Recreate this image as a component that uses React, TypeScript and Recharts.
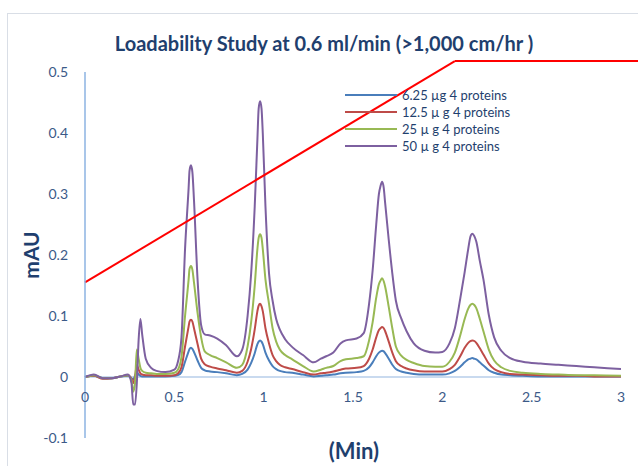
import { LineChart, Line, XAxis, YAxis, ReferenceLine } from "recharts";

// retention time (min)
const TIME = [
  0, 0.05, 0.1, 0.15, 0.2, 0.24, 0.26, 0.27, 0.28, 0.29, 0.3, 0.31, 0.32, 0.34,
  0.37, 0.4, 0.45, 0.5, 0.52, 0.54, 0.56, 0.58, 0.585, 0.593, 0.601, 0.61, 0.63,
  0.65, 0.67, 0.7, 0.74, 0.79, 0.85, 0.88, 0.91, 0.93, 0.95, 0.965, 0.972, 0.98,
  0.988, 0.995, 1.01, 1.03, 1.05, 1.07, 1.09, 1.12, 1.16, 1.22, 1.28, 1.32, 1.35,
  1.39, 1.43, 1.46, 1.52, 1.56, 1.59, 1.61, 1.63, 1.645, 1.654, 1.663, 1.672,
  1.68, 1.7, 1.72, 1.74, 1.77, 1.8, 1.84, 1.9, 1.96, 2.0, 2.04, 2.07, 2.1, 2.125,
  2.145, 2.157, 2.168, 2.179, 2.19, 2.21, 2.23, 2.26, 2.29, 2.33, 2.38, 2.45,
  2.55, 2.65, 2.75, 2.85, 3.0,
];

// absorbance (mAU) per load
const UG_6_25 = [
  0, 0.002, -0.002, -0.002, 0.001, 0.002, -0.002, -0.004, 0.002, 0.008, 0.004,
  0.002, 0.001, 0.001, 0.001, 0.001, 0.001, 0.002, 0.003, 0.008, 0.025, 0.042,
  0.046, 0.048, 0.046, 0.041, 0.027, 0.015, 0.011, 0.009, 0.008, 0.006, 0.003,
  0.005, 0.012, 0.023, 0.039, 0.054, 0.058, 0.06, 0.058, 0.054, 0.04, 0.027,
  0.018, 0.013, 0.01, 0.008, 0.007, 0.004, 0.001, 0.002, 0.003, 0.004, 0.006,
  0.007, 0.008, 0.01, 0.016, 0.024, 0.034, 0.04, 0.042, 0.043, 0.042, 0.039,
  0.03, 0.02, 0.013, 0.009, 0.007, 0.005, 0.004, 0.004, 0.004, 0.006, 0.01,
  0.017, 0.024, 0.029, 0.03, 0.031, 0.03, 0.029, 0.024, 0.019, 0.011, 0.007,
  0.004, 0.003, 0.002, 0.001, 0.001, 0.001, 0.001, 0.001,
];
const UG_12_5 = [
  0, 0.002, -0.003, -0.002, 0.001, 0.003, -0.003, -0.01, 0.0, 0.02, 0.012,
  0.006, 0.004, 0.003, 0.003, 0.002, 0.002, 0.003, 0.006, 0.016, 0.05, 0.083,
  0.091, 0.094, 0.091, 0.08, 0.054, 0.03, 0.021, 0.017, 0.014, 0.011, 0.007,
  0.01, 0.025, 0.046, 0.078, 0.108, 0.117, 0.12, 0.116, 0.108, 0.08, 0.055,
  0.036, 0.026, 0.02, 0.016, 0.013, 0.008, 0.004, 0.006, 0.007, 0.009, 0.012,
  0.014, 0.015, 0.018, 0.03, 0.045, 0.065, 0.077, 0.08, 0.082, 0.08, 0.075,
  0.058, 0.04, 0.026, 0.018, 0.014, 0.011, 0.009, 0.009, 0.009, 0.013, 0.02,
  0.034, 0.048, 0.056, 0.059, 0.06, 0.059, 0.056, 0.047, 0.037, 0.022, 0.013,
  0.008, 0.005, 0.004, 0.003, 0.002, 0.002, 0.001, 0.001,
];
const UG_25 = [
  0, 0.003, -0.002, -0.002, 0.001, 0.003, -0.005, -0.024, -0.01, 0.045, 0.03,
  0.015, 0.01, 0.007, 0.006, 0.005, 0.005, 0.007, 0.012, 0.033, 0.1, 0.16,
  0.177, 0.182, 0.176, 0.155, 0.105, 0.065, 0.042, 0.036, 0.031, 0.024, 0.015,
  0.02, 0.05, 0.09, 0.15, 0.21, 0.228, 0.234, 0.228, 0.21, 0.16, 0.12, 0.08,
  0.058, 0.045, 0.036, 0.029, 0.018, 0.009, 0.012, 0.015, 0.018, 0.026, 0.029,
  0.031, 0.034, 0.06, 0.09, 0.13, 0.152, 0.158, 0.162, 0.157, 0.148, 0.115,
  0.08, 0.05, 0.035, 0.028, 0.023, 0.018, 0.017, 0.017, 0.025, 0.04, 0.068,
  0.095, 0.112, 0.118, 0.12, 0.118, 0.113, 0.095, 0.075, 0.045, 0.027, 0.016,
  0.01, 0.007, 0.005, 0.004, 0.003, 0.003, 0.002,
];
const UG_50 = [
  0, 0.004, -0.002, -0.002, 0.001, 0.004, -0.01, -0.045, -0.045, -0.01, 0.06,
  0.095, 0.07, 0.03, 0.015, 0.01, 0.008, 0.012, 0.025, 0.065, 0.21, 0.31,
  0.338, 0.347, 0.336, 0.29, 0.16, 0.085, 0.07, 0.068, 0.063, 0.052, 0.034,
  0.045, 0.1, 0.17, 0.28, 0.39, 0.44, 0.452, 0.44, 0.4, 0.28, 0.17, 0.125,
  0.095, 0.078, 0.062, 0.049, 0.036, 0.024, 0.03, 0.034, 0.04, 0.055, 0.06,
  0.063, 0.072, 0.12, 0.175, 0.25, 0.3, 0.313, 0.32, 0.31, 0.285, 0.225, 0.17,
  0.125, 0.096, 0.075, 0.055, 0.043, 0.04, 0.041, 0.055, 0.08, 0.128, 0.172,
  0.21, 0.23, 0.235, 0.231, 0.222, 0.19, 0.16, 0.102, 0.065, 0.043, 0.031,
  0.025, 0.022, 0.02, 0.018, 0.016, 0.013,
];

const SERIES = [
  { key: "ug625", name: "6.25 µg 4 proteins", color: "#4A7EBB", values: UG_6_25 },
  { key: "ug125", name: "12.5 µ g 4 proteins", color: "#BE4B48", values: UG_12_5 },
  { key: "ug25", name: "25 µ g 4 proteins", color: "#98B954", values: UG_25 },
  { key: "ug50", name: "50 µ g 4 proteins", color: "#7D60A0", values: UG_50 },
];

const X_TICKS = [0, 0.5, 1, 1.5, 2, 2.5, 3];
const Y_TICKS = [-0.1, 0, 0.1, 0.2, 0.3, 0.4, 0.5];

// red flow-rate annotation (time, mAU)
const FLOW_LINE = [
  { x: 0, y: 0.155 },
  { x: 2.07, y: 0.518 },
  { x: 3.1, y: 0.518 },
];

const FONT = "Lato, 'Liberation Sans', sans-serif";
const TEXT_DARK = "#1F3F6E";
const TEXT_TICK = "#3C5A88";

const data = TIME.map((t, i) => {
  const row: Record<string, number> = { t };
  SERIES.forEach((s) => {
    row[s.key] = s.values[i];
  });
  return row;
});

export default function App() {
  return (
    <div
      style={{
        position: "absolute",
        left: 0,
        top: 0,
        width: 638,
        height: 466,
        overflow: "hidden",
        background: "#fff",
        fontFamily: FONT,
      }}
    >
      <div
        style={{
          position: "absolute",
          left: 7,
          top: 13,
          width: 700,
          height: 500,
          borderLeft: "1px solid #D9DEE6",
          borderTop: "1px solid #D9DEE6",
        }}
      />
      <LineChart
        width={638}
        height={466}
        data={data}
        margin={{ top: 72, right: 17, bottom: 0, left: 25 }}
        style={{ position: "absolute", left: 0, top: 0 }}
      >
        <XAxis
          type="number"
          dataKey="t"
          domain={[0, 3]}
          ticks={X_TICKS}
          interval={0}
          height={28}
          axisLine={false}
          tickLine={false}
          tickMargin={-52}
          tick={{ fill: TEXT_TICK, fontSize: 14, fontFamily: FONT }}
        />
        <YAxis
          type="number"
          domain={[-0.1, 0.5]}
          ticks={Y_TICKS}
          interval={0}
          width={60}
          axisLine={{ stroke: "#8DB3E2", strokeWidth: 1.5 }}
          tickLine={false}
          tickMargin={11}
          tick={{ fill: TEXT_TICK, fontSize: 14, fontFamily: FONT }}
        />
        <ReferenceLine y={0} stroke="#C9DAEF" strokeWidth={2} />
        {SERIES.map((s) => (
          <Line
            key={s.key}
            dataKey={s.key}
            name={s.name}
            type="monotone"
            stroke={s.color}
            strokeWidth={2}
            dot={false}
            isAnimationActive={false}
          />
        ))}
        <ReferenceLine
          segment={[FLOW_LINE[0], FLOW_LINE[1]]}
          stroke="#FF0000"
          strokeWidth={2}
          ifOverflow="visible"
        />
        <ReferenceLine
          segment={[FLOW_LINE[1], FLOW_LINE[2]]}
          stroke="#FF0000"
          strokeWidth={2}
          ifOverflow="visible"
        />
      </LineChart>

      <div
        style={{
          position: "absolute",
          left: 0,
          width: 648,
          top: 31,
          textAlign: "center",
          fontWeight: 700,
          fontSize: 20,
          color: TEXT_DARK,
          whiteSpace: "nowrap",
        }}
      >
        Loadability Study at 0.6 ml/min (&gt;1,000 cm/hr )
      </div>

      <div
        style={{
          position: "absolute",
          left: 30,
          top: 255,
          transform: "translate(-50%, -50%) rotate(-90deg)",
          fontWeight: 700,
          fontSize: 21,
          color: TEXT_DARK,
          whiteSpace: "nowrap",
        }}
      >
        mAU
      </div>

      <div
        style={{
          position: "absolute",
          left: 354,
          top: 450,
          transform: "translate(-50%, -50%)",
          fontWeight: 700,
          fontSize: 22,
          color: TEXT_DARK,
          whiteSpace: "nowrap",
        }}
      >
        (Min)
      </div>

      <div style={{ position: "absolute", left: 345, top: 87 }}>
        {SERIES.map((s) => (
          <div
            key={s.key}
            style={{ display: "flex", alignItems: "center", height: 16.8 }}
          >
            <div style={{ width: 52, height: 2, background: s.color }} />
            <span
              style={{
                marginLeft: 5,
                fontSize: 13,
                color: TEXT_DARK,
                whiteSpace: "nowrap",
              }}
            >
              {s.name}
            </span>
          </div>
        ))}
      </div>
    </div>
  );
}
